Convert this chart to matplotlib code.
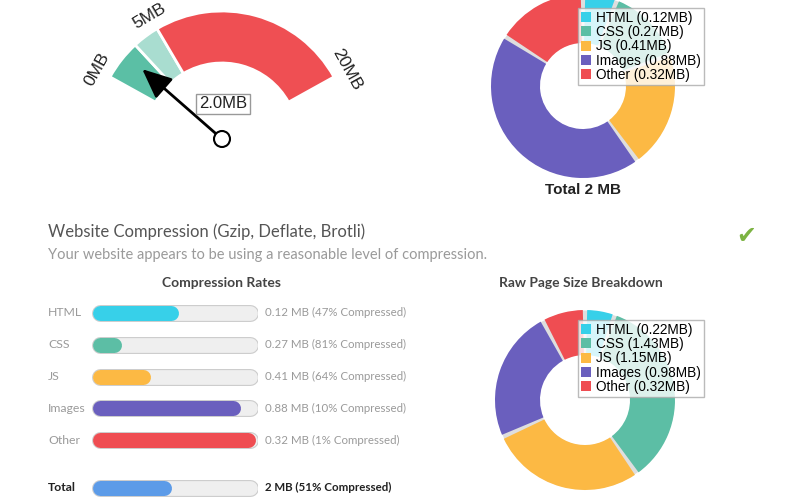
import numpy as np
import matplotlib
matplotlib.use('Agg')
import matplotlib.pyplot as plt
from matplotlib.patches import Wedge, Circle, Patch
from matplotlib import transforms

# gauge (page size in MB)
gauge_max = 20
gauge_bounds = [0, 3, 5, 20]
gauge_colors = ['#5bbfa5', '#a9ddd0', '#ef4f53']
gauge_ticks = [0, 5, 20]
gauge_value = 2.0

# resource types
types = ['HTML', 'CSS', 'JS', 'Images', 'Other']
type_colors = ['#37d0e9', '#5cbea5', '#fcb944', '#6a5fbe', '#ef4d52']
compressed_mb = [0.12, 0.27, 0.41, 0.88, 0.32]
raw_mb = [0.22, 1.43, 1.15, 0.98, 0.32]

# compression rates
pct_compressed = [47, 81, 64, 10, 1]
total_mb = 2
total_pct = 51
total_color = '#5c9be8'

W, H = 800, 500
fig = plt.figure(figsize=(8, 5), dpi=100)
fig.patch.set_facecolor('white')
CHART_FONT = 'Liberation Sans'
TEXT_FONT = 'Lato'


def px_axes(x0, y0, x1, y1):
    # box given in image pixels (origin top-left)
    return fig.add_axes([x0 / W, 1 - y1 / H, (x1 - x0) / W, (y1 - y0) / H])


# ---- gauge ----
cx, cy = 222, 139
axg = px_axes(50, 0, 400, 178)
axg.set_xlim(50 - cx, 400 - cx)
axg.set_ylim(-(178 - cy), cy)
axg.axis('off')
R, ring = 128, 52


def ang(v):
    return 151 - 122 * v / gauge_max


for a, b, c in zip(gauge_bounds[:-1], gauge_bounds[1:], gauge_colors):
    axg.add_patch(Wedge((0, 0), R, ang(b), ang(a), width=ring, fc=c, ec='white', lw=2))

for t in gauge_ticks:
    th = np.radians(ang(t))
    axg.text(143 * np.cos(th), 143 * np.sin(th), f'{t}MB', rotation=ang(t) - 90,
             rotation_mode='anchor', ha='center', va='center', fontsize=12.5,
             family=CHART_FONT, color='#222')

th = np.radians(ang(gauge_value))
axg.annotate('', xy=(106 * np.cos(th), 106 * np.sin(th)), xytext=(0, 0),
             arrowprops=dict(arrowstyle='-|>,head_length=0.9,head_width=0.4', lw=2,
                             color='black', shrinkA=0, shrinkB=0, mutation_scale=20))
axg.add_patch(Circle((0, 0), 8, fc='white', ec='black', lw=1.5, zorder=5))
axg.text(1, 35, f'{gauge_value:.1f}MB', ha='center', va='center', fontsize=12,
         family=CHART_FONT, color='#222',
         bbox=dict(boxstyle='square,pad=0.15', fc='white', ec='#999', lw=1))


# ---- donuts ----
def donut(cx, cy, r, width, vals, leg_x, leg_y):
    ax = px_axes(cx - 100, cy - 100, cx + 100, cy + 100)
    # grey ring behind, shows through the gaps between slices
    ax.add_patch(Wedge((0, 0), r - 0.5, 0, 360, width=width - 1, fc='#dedede', ec='none'))
    wedges, _ = ax.pie(vals, colors=type_colors, radius=r, startangle=90,
                       counterclock=False, wedgeprops=dict(width=width, linewidth=0))
    for w in wedges:
        w.set_theta1(w.theta1 + 1.4)
        w.set_theta2(w.theta2 - 1.4)
    ax.set_xlim(-100, 100)
    ax.set_ylim(-100, 100)
    ax.set_aspect('equal')
    handles = [Patch(fc=c) for c in type_colors]
    labels = [f'{t} ({v:.2f}MB)' for t, v in zip(types, vals)]
    leg = fig.legend(handles, labels, loc='upper left',
                     bbox_to_anchor=(leg_x / W, 1 - leg_y / H),
                     frameon=True, fancybox=False, edgecolor='#aaaaaa',
                     prop=dict(family=CHART_FONT, size=9.8),
                     handlelength=0.75, handleheight=0.75, handletextpad=0.4,
                     labelspacing=0.02, borderpad=0.2, borderaxespad=0)
    leg.get_frame().set_linewidth(1)
    return ax


donut(583, 86, 92, 49, compressed_mb, 578, 8)
fig.text(583 / W, 1 - 190 / H, f'Total {sum(compressed_mb):.0f} MB', ha='center',
         va='center', fontsize=11, weight='bold', family=CHART_FONT, color='#222')

donut(585, 400, 90, 45, raw_mb, 578, 320)
fig.text(581 / W, 1 - 283 / H, 'Raw Page Size Breakdown', ha='center', va='center',
         fontsize=10, weight='bold', family=TEXT_FONT, color='#444')

# ---- headings ----
fig.text(48 / W, 1 - 232 / H, 'Website Compression (Gzip, Deflate, Brotli)',
         ha='left', va='center', fontsize=12, family=TEXT_FONT, color='#555')
fig.text(48 / W, 1 - 255 / H,
         'Your website appears to be using a reasonable level of compression.',
         ha='left', va='center', fontsize=10.5, family=TEXT_FONT, color='#9a9a9a')
fig.text(746 / W, 1 - 236 / H, '\u2714', ha='center', va='center', fontsize=17,
         family='DejaVu Sans', color='#7cb342')
fig.text(221 / W, 1 - 283 / H, 'Compression Rates', ha='center', va='center',
         fontsize=10, weight='bold', family=TEXT_FONT, color='#444')

# ---- compression bars ----
axb = px_axes(91, 297, 258, 500)
axb.set_xlim(0, 1)
axb.set_ylim(5.88, -0.5)
axb.axis('off')
ys = list(range(len(types))) + [len(types) + 0.5]
rows = types + ['Total']
fills = np.array([1 - p / 100 for p in pct_compressed] + [1 - total_pct / 100])
fill_colors = type_colors + [total_color]
cap = 8.5 / 167
axb.hlines(ys, cap, 1 - cap, colors='#cccccc', lw=12.2, capstyle='round')
axb.hlines(ys, cap, 1 - cap, colors='#efefef', lw=10.6, capstyle='round')
axb.hlines(ys, cap, fills - cap, colors=fill_colors, lw=10.8, capstyle='round')

tr = transforms.blended_transform_factory(fig.transFigure, axb.transData)
values = [f'{m} MB ({p}% Compressed)' for m, p in zip(compressed_mb, pct_compressed)]
values.append(f'{total_mb} MB ({total_pct}% Compressed)')
for name, y, val in zip(rows, ys, values):
    is_total = name == 'Total'
    style = dict(ha='left', va='center', family=TEXT_FONT,
                 color='#222' if is_total else '#9a9a9a',
                 weight='bold' if is_total else 'normal')
    axb.text(48 / W, y, name, transform=tr, fontsize=8.8, **style)
    axb.text(265 / W, y, val, transform=tr, fontsize=8.3, **style)

fig.savefig('out.png', dpi=100)
